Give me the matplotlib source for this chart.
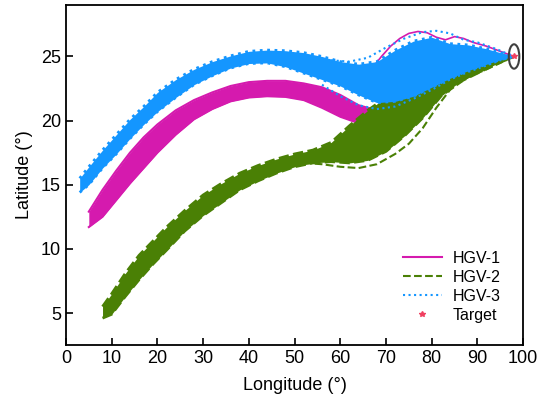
import matplotlib
matplotlib.use("Agg")
import matplotlib.pyplot as plt
from matplotlib.lines import Line2D
from matplotlib.patches import Ellipse

plt.rcParams['font.family'] = ['Liberation Sans', 'DejaVu Sans']

# colours
c1 = '#D51AAE'   # HGV-1
c2 = '#4A8005'   # HGV-2
c3 = '#1496FF'   # HGV-3

# HGV-1 band (upper / lower edge of the bundle)
lon1 = [5, 8, 11, 14, 17, 20, 24, 28, 32, 36, 40, 44, 48, 52, 56, 60, 64, 67,
        70, 75, 80, 85, 90, 95, 98]
hi1 = [12.9, 14.6, 16.1, 17.5, 18.7, 19.7, 20.8, 21.6, 22.2, 22.7, 23.0, 23.1,
       23.1, 22.9, 22.6, 22.0, 21.2, 20.9, 21.5, 23.0, 24.2, 24.8, 25.0, 25.1, 25.0]
lo1 = [11.7, 12.5, 13.8, 15.1, 16.3, 17.5, 18.9, 20.1, 20.9, 21.5, 21.8, 21.9,
       21.85, 21.6, 21.0, 20.3, 19.8, 19.8, 20.2, 21.5, 22.8, 23.8, 24.4, 24.8, 25.0]
# one HGV-1 trajectory that climbs above the others
out1_lon = [63, 65, 67, 69, 71, 73, 75, 77, 79, 81, 83, 85, 87, 89, 92, 95, 98]
out1_lat = [22.8, 23.4, 24.1, 25.0, 25.8, 26.4, 26.8, 26.95, 26.85, 26.5, 26.3,
            26.55, 26.4, 26.1, 25.8, 25.4, 25.0]

# HGV-2 band
lon2 = [8, 10, 13, 16, 19, 22, 26, 30, 34, 38, 42, 46, 50, 54, 58, 62, 66, 70,
        74, 78, 82, 86, 90, 94, 98]
hi2 = [5.5, 6.5, 8.1, 9.5, 10.6, 11.7, 13.0, 14.2, 15.1, 15.9, 16.5, 17.0, 17.4,
       17.7, 18.3, 19.6, 20.8, 21.8, 22.6, 23.2, 23.7, 24.2, 24.5, 24.8, 25.0]
lo2 = [4.6, 4.9, 6.3, 7.6, 8.8, 9.9, 11.4, 12.6, 13.6, 14.6, 15.3, 15.9, 16.4,
       16.7, 16.8, 16.7, 16.9, 17.6, 18.8, 20.2, 21.9, 23.0, 23.7, 24.4, 25.0]
out2_lon = [52, 56, 60, 64, 68, 72, 75, 78, 81, 84, 88, 92, 95, 98]
out2_lat = [16.7, 16.6, 16.4, 16.3, 16.6, 17.4, 18.2, 19.4, 21.0, 22.4, 23.4,
            24.0, 24.5, 25.0]

# HGV-3 band
lon3 = [3, 5, 8, 11, 14, 17, 20, 24, 28, 32, 36, 40, 44, 48, 52, 56, 60, 64, 68,
        72, 76, 80, 84, 88, 92, 95, 98]
hi3 = [15.5, 16.4, 17.7, 18.9, 20.1, 21.1, 22.2, 23.2, 24.0, 24.6, 25.05, 25.4,
       25.5, 25.45, 25.3, 25.0, 24.6, 24.4, 24.6, 25.5, 26.2, 26.5, 26.0, 25.9,
       25.6, 25.3, 25.05]
lo3 = [14.4, 15.0, 16.3, 17.4, 18.6, 19.7, 20.7, 21.8, 22.8, 23.5, 24.1, 24.45,
       24.5, 24.2, 23.7, 23.2, 22.7, 22.0, 21.4, 21.5, 21.9, 22.6, 23.3, 23.9,
       24.4, 24.75, 25.0]
out3a_lon = [58, 62, 66, 70, 74, 78, 81, 84, 87, 90, 94, 98]
out3a_lat = [24.7, 24.6, 24.9, 25.7, 26.4, 26.9, 27.0, 26.8, 26.3, 26.1, 25.6, 25.0]
out3b_lon = [56, 60, 64, 68, 72, 76, 80, 84, 88, 92, 95, 98]
out3b_lat = [22.8, 21.9, 21.2, 20.9, 21.1, 21.7, 22.4, 23.2, 23.8, 24.3, 24.7, 25.0]

target = (98, 25)

fig, ax = plt.subplots(figsize=(5.45, 3.98), dpi=100)
fig.subplots_adjust(left=0.121, right=0.96, bottom=0.133, top=0.987)

# HGV-1
ax.fill_between(lon1, lo1, hi1, color=c1, lw=0, zorder=1)
ax.plot(lon1, hi1, '-', color=c1, lw=1.5, zorder=1)
ax.plot(lon1, lo1, '-', color=c1, lw=1.5, zorder=1)

# HGV-2
ax.fill_between(lon2, lo2, hi2, color=c2, lw=0, zorder=2)
ax.plot(lon2, hi2, '--', color=c2, lw=2, zorder=2)
ax.plot(lon2, lo2, '--', color=c2, lw=2, zorder=2)
ax.plot(out2_lon, out2_lat, '--', color=c2, lw=1.5, zorder=2)

# outlying HGV-1 line, hidden where the HGV-3 bundle covers it
ax.plot(out1_lon, out1_lat, '-', color=c1, lw=1.2, zorder=2.5)

# HGV-3
ax.fill_between(lon3, lo3, hi3, color=c3, lw=0, zorder=3)
ax.plot(lon3, hi3, ':', color=c3, lw=2, zorder=3)
ax.plot(lon3, lo3, ':', color=c3, lw=2, zorder=3)
ax.plot(out3a_lon, out3a_lat, ':', color=c3, lw=1.5, zorder=3)
ax.plot(out3b_lon, out3b_lat, ':', color=c3, lw=1.5, zorder=3)

# target
ax.plot(*target, marker='*', color='#F04060', ms=4, ls='none', zorder=5)
ax.add_patch(Ellipse(target, 2.3, 1.9, fill=False, edgecolor='#404040', lw=1.5, zorder=5))

ax.set_xlim(0, 100)
ax.set_ylim(2.5, 29)
ax.set_xticks(range(0, 101, 10))
ax.set_yticks([5, 10, 15, 20, 25])
ax.tick_params(direction='in', length=5, width=1.2, labelsize=13)
for s in ax.spines.values():
    s.set_linewidth(1.3)
ax.set_xlabel('Longitude (°)', fontsize=13, labelpad=7)
ax.set_ylabel('Latitude (°)', fontsize=13, labelpad=6)

handles = [Line2D([], [], color=c1, ls='-', lw=1.5),
           Line2D([], [], color=c2, ls='--', lw=1.5),
           Line2D([], [], color=c3, ls=':', lw=1.5),
           Line2D([], [], color='#F04060', marker='*', ms=4, ls='none')]
ax.legend(handles, ['HGV-1', 'HGV-2', 'HGV-3', 'Target'], loc='lower right',
          frameon=False, fontsize=11.5, handlelength=2.4, handletextpad=0.7,
          labelspacing=0.25, borderaxespad=1.0)

fig.savefig('out.png', dpi=100)
